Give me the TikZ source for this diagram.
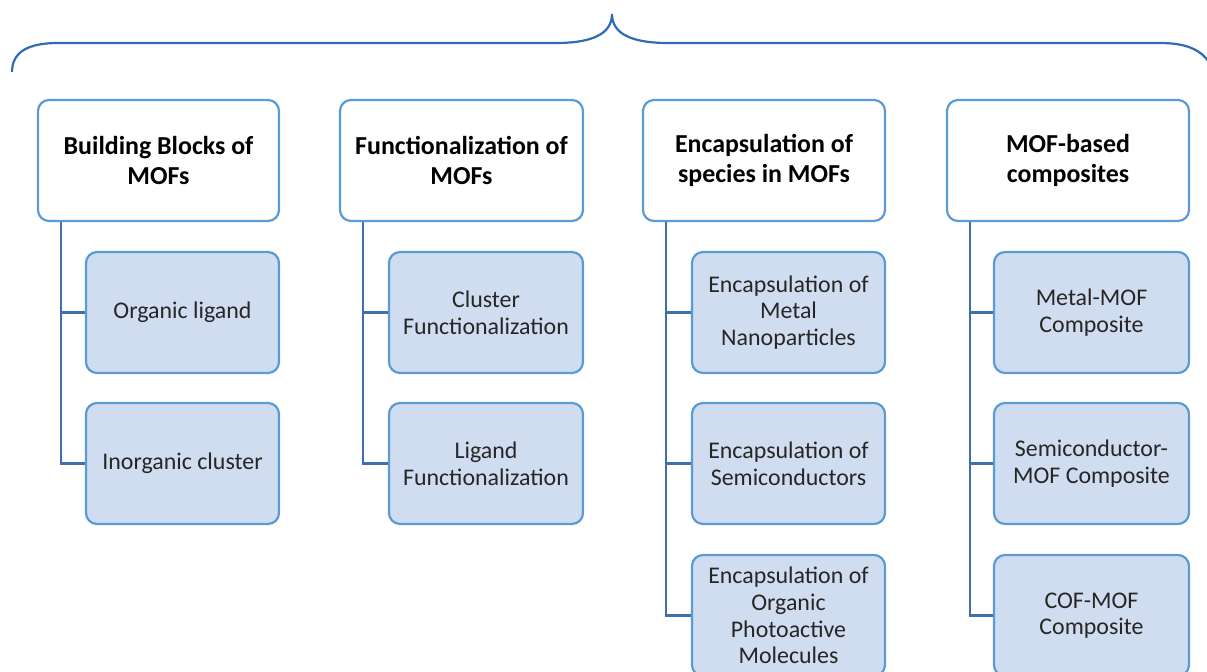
\documentclass[tikz,border=0pt]{standalone}
\usepackage{fontspec}
\setmainfont{Carlito}
\definecolor{boxborder}{HTML}{5B9BD5}
\definecolor{boxfill}{HTML}{D0DCEF}
\definecolor{linkcol}{HTML}{3F6FB0}
\definecolor{bracecol}{HTML}{2E6DB4}
\definecolor{txt}{HTML}{262626}
\begin{document}
\begin{tikzpicture}[x=1bp,y=-1bp,
  header/.style={draw=boxborder, line width=2.2bp, fill=white, rounded corners=11bp,
    minimum width=241bp, minimum height=121bp, align=center, font=\fontsize{26}{29.5}\selectfont\bfseries, text=black, inner sep=0pt},
  child/.style={draw=boxborder, line width=2.2bp, fill=boxfill, rounded corners=11bp,
    minimum width=193bp, minimum height=121bp, align=center, font=\fontsize{24}{26.7}\selectfont, text=txt, inner sep=0pt},
  link/.style={draw=linkcol, line width=2.2bp},
  bracestyle/.style={draw=bracecol, line width=2.2bp}]
\useasboundingbox (0,0) rectangle (1207,672);
\clip (0,0) rectangle (1207,672);
% brace
\draw[bracestyle] (12,72) .. controls (12,52) and (28,43) .. (58,43) -- (556,43)
  .. controls (592,43) and (612,34) .. (612,14)
  .. controls (612,34) and (632,43) .. (668,43) -- (1160,43)
  .. controls (1190,43) and (1205,52) .. (1212,68);
% headers
\node[header] (h1) at (158.5,160.5) {Building Blocks of\\MOFs};
\node[header, minimum width=243bp] (h2) at (461.5,160.5) {Functionalization of\\MOFs};
\node[header, minimum width=242bp] (h3) at (764,160.5) {Encapsulation of\\species in MOFs};
\node[header, minimum width=242bp] (h4) at (1068,160.5) {MOF-based\\composites};
% children
\node[child] (c11) at (182.5,312.5) {Organic ligand};
\node[child] (c12) at (182.5,463.5) {Inorganic cluster};
\node[child, minimum width=194bp] (c21) at (486,312.5) {Cluster\\Functionalization};
\node[child, minimum width=194bp] (c22) at (486,463.5) {Ligand\\Functionalization};
\node[child] (c31) at (788.5,312.5) {Encapsulation of\\Metal\\Nanoparticles};
\node[child] (c32) at (788.5,463.5) {Encapsulation of\\Semiconductors};
\node[child] (c33) at (788.5,615.5) {Encapsulation of\\Organic\\Photoactive\\Molecules};
\node[child, minimum width=195bp] (c41) at (1091.5,312.5) {Metal-MOF\\Composite};
\node[child, minimum width=195bp] (c42) at (1091.5,463.5) {Semiconductor-\\MOF Composite};
\node[child, minimum width=195bp] (c43) at (1091.5,615.5) {COF-MOF\\Composite};
% connectors
\draw[link] ([xshift=24bp]h1.south west) |- (c11.west);
\draw[link] ([xshift=24bp]h1.south west) |- (c12.west);
\draw[link] ([xshift=24bp]h2.south west) |- (c21.west);
\draw[link] ([xshift=24bp]h2.south west) |- (c22.west);
\draw[link] ([xshift=24bp]h3.south west) |- (c31.west);
\draw[link] ([xshift=24bp]h3.south west) |- (c32.west);
\draw[link] ([xshift=24bp]h3.south west) |- (c33.west);
\draw[link] ([xshift=24bp]h4.south west) |- (c41.west);
\draw[link] ([xshift=24bp]h4.south west) |- (c42.west);
\draw[link] ([xshift=24bp]h4.south west) |- (c43.west);
\end{tikzpicture}
\end{document}
